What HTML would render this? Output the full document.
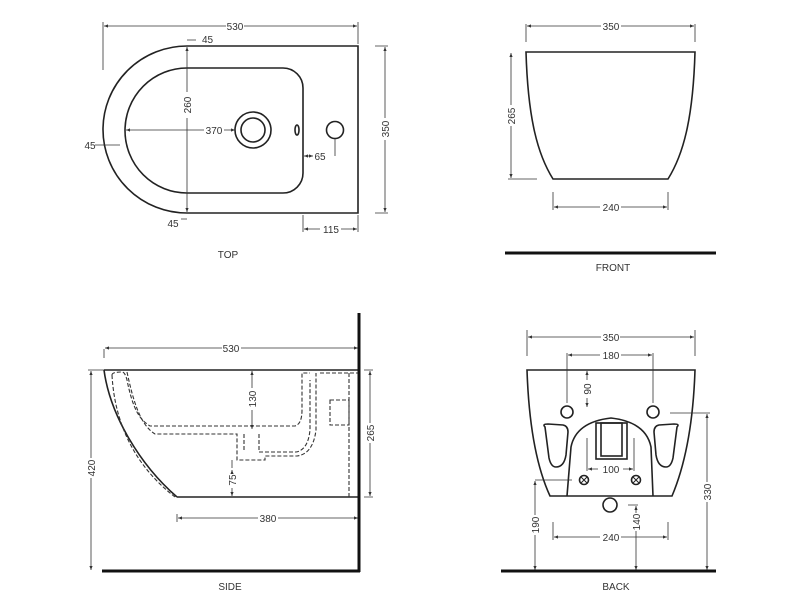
<!DOCTYPE html>
<html><head><style>body{margin:0;background:#fff}svg{display:block}text{font-family:"Liberation Sans",sans-serif;font-size:10px;fill:#333}</style></head>
<body>
<svg width="800" height="600" viewBox="0 0 800 600" xmlns="http://www.w3.org/2000/svg">
<defs><marker id="a" markerWidth="6" markerHeight="6" refX="5" refY="3" orient="auto-start-reverse"><path d="M0,1 L5,3 L0,5" fill="#333"/></marker></defs>
<g fill="none" stroke="#222" stroke-width="1.6">
<!-- TOP -->
<path d="M187,46 L358,46 L358,213 L187,213 A84,83.5 0 0 1 187,46 Z"/>
<path d="M187,68 L283,68 A20,20 0 0 1 303,88 L303,173 A20,20 0 0 1 283,193 L187,193 A62,62.5 0 0 1 187,68 Z"/>
<circle cx="253" cy="130" r="18"/><circle cx="253" cy="130" r="12"/>
<ellipse cx="297" cy="130" rx="2" ry="5"/><circle cx="335" cy="130" r="8.5"/>
<!-- FRONT -->
<path d="M526,52 L695,52 C693,120 683,155 668,179 L553,179 C538,155 528,120 526,52 Z"/>
<!-- SIDE -->
<path d="M104,370 L359,370 M177,497 L359,497 M104,370 C110,415 140,465 177,497"/>
<!-- BACK -->
<path d="M527,370 L695,370 C693,430 683,470 672,496 L550,496 C538,470 529,430 527,370 Z"/>
<path d="M567,496 L571,447 Q576,422 611,418 Q646,422 651,447 L653,496"/>
<rect x="596" y="423" width="31" height="36"/><rect x="601" y="423" width="21" height="33"/>
<path d="M545,427 Q542,424 548,424 L563,425 Q568,426 568,432 L566,455 Q564,467 556,467 Q551,467 549,458 Z"/>
<path d="M677,427 Q680,424 674,424 L659,425 Q654,426 654,432 L656,455 Q658,467 666,467 Q671,467 673,458 Z"/>
<circle cx="567" cy="412" r="6"/><circle cx="653" cy="412" r="6"/>
<circle cx="610" cy="505" r="7"/>
<circle cx="584" cy="480" r="4.5"/><circle cx="636" cy="480" r="4.5"/>
<path d="M581,477 L587,483 M587,477 L581,483 M633,477 L639,483 M639,477 L633,483" stroke-width="1"/>
</g>
<!-- side dashed -->
<g fill="none" stroke="#333" stroke-width="1.1" stroke-dasharray="4,2">
<path d="M127,372 C133,400 140,425 155,434 L237,434 L237,460 L265,460 L265,456 L297,456 Q313,454 316,430 L316,373"/>
<path d="M112,375 Q112,372 122,372 Q125,372 127,380 C133,410 140,420 150,426 L295,426 Q302,424 302,410 L302,373 L310,373"/>
<path d="M244,434 L244,451 M259,434 L259,452 L296,452 Q308,450 310,430 L310,380"/>
<path d="M112,375 C115,430 140,470 175,497"/>
<path d="M320,373 L358,373 M349,373 L349,497"/>
<rect x="330" y="400" width="19" height="25"/>
</g>
<!-- dims -->
<g fill="none" stroke="#333" stroke-width="0.8">
<path d="M103,22 L103,70 M358,22 L358,44 M375,46 L388,46 M375,213 L388,213 M303,215 L303,232 M358,215 L358,232 M335,139 L335,156 M187,40 L196,40 M187,219 L181,219 M95,145 L120,145"/>
<path d="M526,24 L526,42 M695,24 L695,42 M508,179 L537,179 M553,192 L553,210 M668,192 L668,210"/>
<path d="M104,349 L104,358 M88,370 L104,370 M177,514 L177,522 M364,370 L373,370 M364,497 L373,497 M232,460 L232,468"/>
<path d="M527,330 L527,356 M695,330 L695,356 M567,353 L567,403 M653,353 L653,403 M670,413 L710,413 M535,480 L572,480 M628,505 L638,505 M553,522 L553,540 M668,522 L668,540 M587,438 L587,471 M634,438 L634,471"/>
</g>
<g fill="none" stroke="#333" stroke-width="0.8" marker-start="url(#a)" marker-end="url(#a)">
<path d="M104,26 L226,26 M244,26 L357,26"/>
<path d="M385,47 L385,118 M385,140 L385,212"/>
<path d="M187,47 L187,92 M187,118 L187,212"/>
<path d="M126,130 L204,130 M224,130 L235,130"/>
<path d="M304,156 L313,156"/><path d="M304,229 L320,229 M341,229 L357,229"/>
<path d="M527,26 L601,26 M621,26 L694,26"/>
<path d="M511,53 L511,105 M511,126 L511,178"/>
<path d="M554,207 L600,207 M621,207 L667,207"/>
<path d="M105,348 L222,348 M241,348 L358,348"/>
<path d="M91,371 L91,458 M91,478 L91,570"/>
<path d="M370,371 L370,423 M370,443 L370,496"/>
<path d="M178,518 L258,518 M278,518 L358,518"/>
<path d="M252,371 L252,388 M252,410 L252,429"/>
<path d="M232,470 L232,472 M232,488 L232,496"/>
<path d="M528,337 L601,337 M620,337 L694,337"/>
<path d="M568,355 L600,355 M621,355 L652,355"/>
<path d="M587,371 L587,380 M587,398 L587,407"/>
<path d="M588,469 L598,469 M623,469 L633,469"/>
<path d="M707,414 L707,482 M707,502 L707,570"/>
<path d="M535,481 L535,515 M535,535 L535,570"/>
<path d="M636,506 L636,513 M636,531 L636,570"/>
<path d="M554,537 L600,537 M621,537 L667,537"/>
</g>
<!-- ground/wall -->
<g stroke="#111" stroke-width="3">
<path d="M505,253 L716,253 M501,571 L716,571 M359,313 L359,572 M102,571 L360,571"/>
</g>
<g>
<text x="235" y="30" text-anchor="middle">530</text>
<text x="202" y="43">45</text>
<text x="173" y="227" text-anchor="middle">45</text>
<text x="90" y="149" text-anchor="middle">45</text>
<text x="214" y="134" text-anchor="middle">370</text>
<text x="320" y="160" text-anchor="middle">65</text>
<text x="331" y="233" text-anchor="middle">115</text>
<text transform="translate(191,105) rotate(-90)" text-anchor="middle">260</text>
<text transform="translate(389,129) rotate(-90)" text-anchor="middle">350</text>
<text x="228" y="258" text-anchor="middle">TOP</text>
<text x="611" y="30" text-anchor="middle">350</text>
<text transform="translate(515,116) rotate(-90)" text-anchor="middle">265</text>
<text x="611" y="211" text-anchor="middle">240</text>
<text x="613" y="271" text-anchor="middle">FRONT</text>
<text x="231" y="352" text-anchor="middle">530</text>
<text transform="translate(95,468) rotate(-90)" text-anchor="middle">420</text>
<text transform="translate(374,433) rotate(-90)" text-anchor="middle">265</text>
<text transform="translate(256,399) rotate(-90)" text-anchor="middle">130</text>
<text transform="translate(236,480) rotate(-90)" text-anchor="middle">75</text>
<text x="268" y="522" text-anchor="middle">380</text>
<text x="230" y="590" text-anchor="middle">SIDE</text>
<text x="611" y="341" text-anchor="middle">350</text>
<text x="611" y="359" text-anchor="middle">180</text>
<text transform="translate(591,389) rotate(-90)" text-anchor="middle">90</text>
<text x="611" y="473" text-anchor="middle">100</text>
<text transform="translate(711,492) rotate(-90)" text-anchor="middle">330</text>
<text transform="translate(539,525) rotate(-90)" text-anchor="middle">190</text>
<text transform="translate(640,522) rotate(-90)" text-anchor="middle">140</text>
<text x="611" y="541" text-anchor="middle">240</text>
<text x="616" y="590" text-anchor="middle">BACK</text>
</g>
</svg>
</body></html>
